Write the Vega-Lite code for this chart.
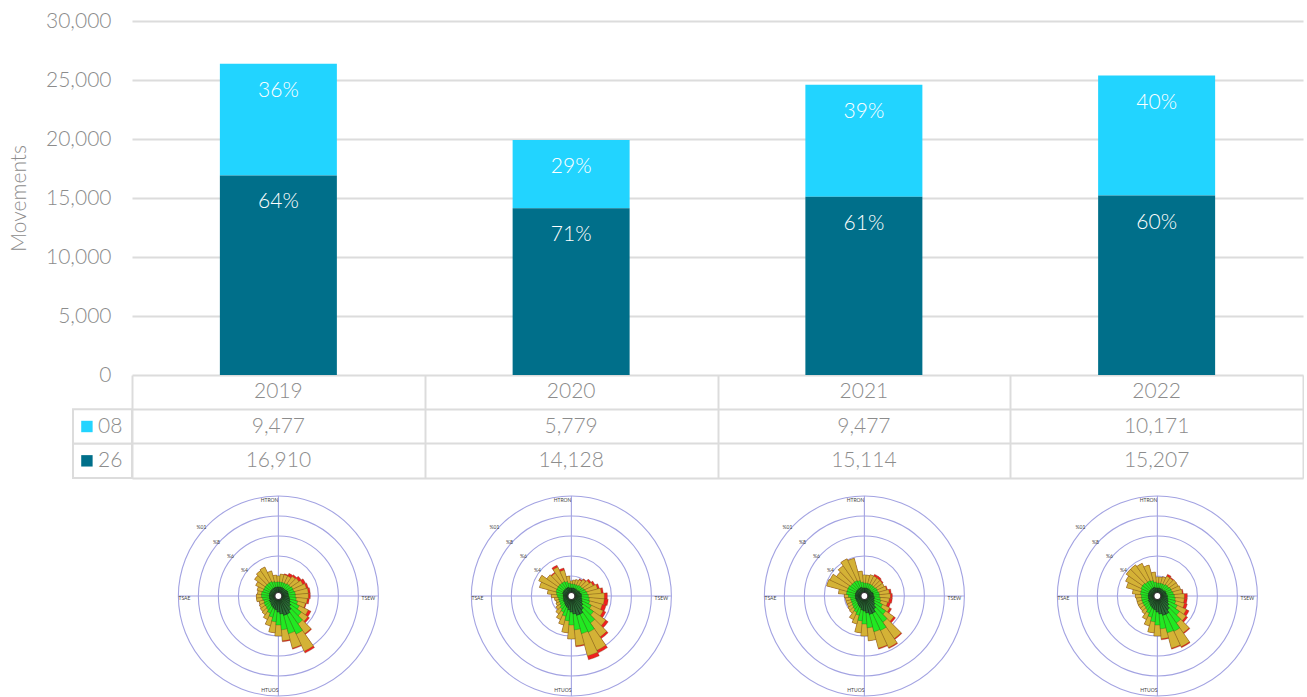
{
"$schema": "https://vega.github.io/schema/vega-lite/v6.json",
"background": "white",
"padding": {"left": 8, "top": 10, "right": 0, "bottom": 0},
"autosize": {"type": "pad"},
"spacing": 0,
"bounds": "flush",
"config": {"view": {"stroke": null}, "font": "Lato", "text": {"font": "Lato", "fontWeight": 300, "fontSize": 21, "color": "#8c8c8c"}},
"datasets": {
"movements": [
{"year":2019,"runway":"08","movements":9477,"share":0.36},
{"year":2019,"runway":"26","movements":16910,"share":0.64},
{"year":2020,"runway":"08","movements":5779,"share":0.29},
{"year":2020,"runway":"26","movements":14128,"share":0.71},
{"year":2021,"runway":"08","movements":9477,"share":0.39},
{"year":2021,"runway":"26","movements":15114,"share":0.61},
{"year":2022,"runway":"08","movements":10171,"share":0.40},
{"year":2022,"runway":"26","movements":15207,"share":0.60}
],
"wind": [
{"year":2019,"dir":0,"dg":0.9,"g":1.4,"yl":2.0,"rd":2.0},
{"year":2019,"dir":10,"dg":0.9,"g":1.4,"yl":2.2,"rd":2.2},
{"year":2019,"dir":20,"dg":0.9,"g":1.4,"yl":2.2,"rd":2.3},
{"year":2019,"dir":30,"dg":0.9,"g":1.4,"yl":2.2,"rd":2.5},
{"year":2019,"dir":40,"dg":0.9,"g":1.5,"yl":2.4,"rd":2.6},
{"year":2019,"dir":50,"dg":0.9,"g":1.5,"yl":2.5,"rd":2.8},
{"year":2019,"dir":60,"dg":1.0,"g":1.6,"yl":2.7,"rd":3.0},
{"year":2019,"dir":70,"dg":1.0,"g":1.6,"yl":2.9,"rd":3.1},
{"year":2019,"dir":80,"dg":1.0,"g":1.7,"yl":3.0,"rd":3.2},
{"year":2019,"dir":90,"dg":1.0,"g":1.7,"yl":3.0,"rd":3.2},
{"year":2019,"dir":100,"dg":1.1,"g":1.8,"yl":2.9,"rd":3.1},
{"year":2019,"dir":110,"dg":1.2,"g":2.0,"yl":2.8,"rd":2.9},
{"year":2019,"dir":120,"dg":1.3,"g":2.3,"yl":3.3,"rd":3.6},
{"year":2019,"dir":130,"dg":1.5,"g":2.8,"yl":3.6,"rd":3.8},
{"year":2019,"dir":140,"dg":1.8,"g":3.4,"yl":4.6,"rd":4.7},
{"year":2019,"dir":150,"dg":2.0,"g":4.2,"yl":6.1,"rd":6.3},
{"year":2019,"dir":160,"dg":2.0,"g":3.9,"yl":5.4,"rd":5.5},
{"year":2019,"dir":170,"dg":1.8,"g":3.4,"yl":4.5,"rd":4.6},
{"year":2019,"dir":180,"dg":1.6,"g":2.9,"yl":4.0,"rd":4.0},
{"year":2019,"dir":190,"dg":1.4,"g":2.6,"yl":3.7,"rd":3.7},
{"year":2019,"dir":200,"dg":1.3,"g":2.2,"yl":3.1,"rd":3.1},
{"year":2019,"dir":210,"dg":1.2,"g":1.9,"yl":2.6,"rd":2.6},
{"year":2019,"dir":220,"dg":1.1,"g":1.7,"yl":2.3,"rd":2.3},
{"year":2019,"dir":230,"dg":1.0,"g":1.6,"yl":2.2,"rd":2.2},
{"year":2019,"dir":240,"dg":1.0,"g":1.6,"yl":2.1,"rd":2.1},
{"year":2019,"dir":250,"dg":0.9,"g":1.5,"yl":2.0,"rd":2.0},
{"year":2019,"dir":260,"dg":0.9,"g":1.6,"yl":2.2,"rd":2.2},
{"year":2019,"dir":270,"dg":0.9,"g":1.7,"yl":2.2,"rd":2.2},
{"year":2019,"dir":280,"dg":0.9,"g":1.7,"yl":2.1,"rd":2.1},
{"year":2019,"dir":290,"dg":0.9,"g":1.6,"yl":2.2,"rd":2.2},
{"year":2019,"dir":300,"dg":0.9,"g":1.6,"yl":2.5,"rd":2.5},
{"year":2019,"dir":310,"dg":0.9,"g":1.6,"yl":2.9,"rd":2.9},
{"year":2019,"dir":320,"dg":0.9,"g":1.6,"yl":3.1,"rd":3.1},
{"year":2019,"dir":330,"dg":0.9,"g":1.6,"yl":3.2,"rd":3.2},
{"year":2019,"dir":340,"dg":0.9,"g":1.5,"yl":2.6,"rd":2.6},
{"year":2019,"dir":350,"dg":0.9,"g":1.4,"yl":2.1,"rd":2.1},
{"year":2020,"dir":0,"dg":0.8,"g":1.2,"yl":1.5,"rd":1.5},
{"year":2020,"dir":10,"dg":0.8,"g":1.2,"yl":1.6,"rd":1.6},
{"year":2020,"dir":20,"dg":0.8,"g":1.2,"yl":1.7,"rd":1.7},
{"year":2020,"dir":30,"dg":0.8,"g":1.2,"yl":1.8,"rd":1.9},
{"year":2020,"dir":40,"dg":0.8,"g":1.3,"yl":2.0,"rd":2.1},
{"year":2020,"dir":50,"dg":0.8,"g":1.3,"yl":2.2,"rd":2.4},
{"year":2020,"dir":60,"dg":0.9,"g":1.4,"yl":2.4,"rd":2.6},
{"year":2020,"dir":70,"dg":0.9,"g":1.5,"yl":2.7,"rd":2.9},
{"year":2020,"dir":80,"dg":1.0,"g":1.6,"yl":3.0,"rd":3.2},
{"year":2020,"dir":90,"dg":1.0,"g":1.7,"yl":3.3,"rd":3.6},
{"year":2020,"dir":100,"dg":1.0,"g":1.8,"yl":3.3,"rd":3.7},
{"year":2020,"dir":110,"dg":1.1,"g":1.9,"yl":3.2,"rd":3.6},
{"year":2020,"dir":120,"dg":1.2,"g":2.2,"yl":3.5,"rd":3.8},
{"year":2020,"dir":130,"dg":1.4,"g":2.7,"yl":4.2,"rd":4.5},
{"year":2020,"dir":140,"dg":1.7,"g":3.3,"yl":5.0,"rd":5.2},
{"year":2020,"dir":150,"dg":2.0,"g":4.0,"yl":6.0,"rd":6.3},
{"year":2020,"dir":160,"dg":2.0,"g":3.9,"yl":6.2,"rd":6.6},
{"year":2020,"dir":170,"dg":1.8,"g":3.4,"yl":5.0,"rd":5.1},
{"year":2020,"dir":180,"dg":1.6,"g":2.9,"yl":4.3,"rd":4.3},
{"year":2020,"dir":190,"dg":1.4,"g":2.5,"yl":3.7,"rd":3.7},
{"year":2020,"dir":200,"dg":1.2,"g":2.1,"yl":3.0,"rd":3.0},
{"year":2020,"dir":210,"dg":1.1,"g":1.8,"yl":2.6,"rd":2.6},
{"year":2020,"dir":220,"dg":1.0,"g":1.6,"yl":2.2,"rd":2.2},
{"year":2020,"dir":230,"dg":0.9,"g":1.4,"yl":1.9,"rd":1.9},
{"year":2020,"dir":240,"dg":0.9,"g":1.3,"yl":1.7,"rd":1.7},
{"year":2020,"dir":250,"dg":0.8,"g":1.3,"yl":1.6,"rd":1.6},
{"year":2020,"dir":260,"dg":0.8,"g":1.3,"yl":1.7,"rd":1.7},
{"year":2020,"dir":270,"dg":0.8,"g":1.4,"yl":2.0,"rd":2.0},
{"year":2020,"dir":280,"dg":0.8,"g":1.5,"yl":2.4,"rd":2.4},
{"year":2020,"dir":290,"dg":0.9,"g":1.6,"yl":3.3,"rd":3.3},
{"year":2020,"dir":300,"dg":0.9,"g":1.6,"yl":3.6,"rd":3.6},
{"year":2020,"dir":310,"dg":0.9,"g":1.6,"yl":3.0,"rd":3.0},
{"year":2020,"dir":320,"dg":0.9,"g":1.6,"yl":2.8,"rd":2.9},
{"year":2020,"dir":330,"dg":0.9,"g":1.6,"yl":3.2,"rd":3.4},
{"year":2020,"dir":340,"dg":0.9,"g":1.5,"yl":2.7,"rd":2.9},
{"year":2020,"dir":350,"dg":0.8,"g":1.3,"yl":2.0,"rd":2.0},
{"year":2021,"dir":0,"dg":0.8,"g":1.3,"yl":2.1,"rd":2.1},
{"year":2021,"dir":10,"dg":0.8,"g":1.3,"yl":2.1,"rd":2.1},
{"year":2021,"dir":20,"dg":0.8,"g":1.3,"yl":2.2,"rd":2.2},
{"year":2021,"dir":30,"dg":0.8,"g":1.3,"yl":2.2,"rd":2.4},
{"year":2021,"dir":40,"dg":0.8,"g":1.3,"yl":2.2,"rd":2.4},
{"year":2021,"dir":50,"dg":0.8,"g":1.3,"yl":2.2,"rd":2.3},
{"year":2021,"dir":60,"dg":0.8,"g":1.4,"yl":2.2,"rd":2.2},
{"year":2021,"dir":70,"dg":0.9,"g":1.4,"yl":2.3,"rd":2.4},
{"year":2021,"dir":80,"dg":0.9,"g":1.5,"yl":2.5,"rd":2.7},
{"year":2021,"dir":90,"dg":0.9,"g":1.5,"yl":2.6,"rd":2.8},
{"year":2021,"dir":100,"dg":1.0,"g":1.6,"yl":2.5,"rd":2.8},
{"year":2021,"dir":110,"dg":1.0,"g":1.7,"yl":2.4,"rd":2.7},
{"year":2021,"dir":120,"dg":1.1,"g":2.0,"yl":2.8,"rd":3.0},
{"year":2021,"dir":130,"dg":1.3,"g":2.6,"yl":3.6,"rd":3.8},
{"year":2021,"dir":140,"dg":1.6,"g":3.2,"yl":5.2,"rd":5.3},
{"year":2021,"dir":150,"dg":1.9,"g":3.8,"yl":5.7,"rd":5.8},
{"year":2021,"dir":160,"dg":1.9,"g":3.7,"yl":5.4,"rd":5.5},
{"year":2021,"dir":170,"dg":1.7,"g":3.2,"yl":4.5,"rd":4.5},
{"year":2021,"dir":180,"dg":1.5,"g":2.8,"yl":4.0,"rd":4.0},
{"year":2021,"dir":190,"dg":1.4,"g":2.5,"yl":3.7,"rd":3.7},
{"year":2021,"dir":200,"dg":1.2,"g":2.0,"yl":2.9,"rd":2.9},
{"year":2021,"dir":210,"dg":1.1,"g":1.8,"yl":2.6,"rd":2.6},
{"year":2021,"dir":220,"dg":1.0,"g":1.6,"yl":2.1,"rd":2.1},
{"year":2021,"dir":230,"dg":0.9,"g":1.5,"yl":2.0,"rd":2.0},
{"year":2021,"dir":240,"dg":0.9,"g":1.4,"yl":1.9,"rd":1.9},
{"year":2021,"dir":250,"dg":0.9,"g":1.4,"yl":1.9,"rd":1.9},
{"year":2021,"dir":260,"dg":0.9,"g":1.4,"yl":1.9,"rd":1.9},
{"year":2021,"dir":270,"dg":0.9,"g":1.6,"yl":2.0,"rd":2.0},
{"year":2021,"dir":280,"dg":0.9,"g":1.8,"yl":2.6,"rd":2.6},
{"year":2021,"dir":290,"dg":0.9,"g":1.8,"yl":3.9,"rd":3.9},
{"year":2021,"dir":300,"dg":0.9,"g":1.8,"yl":3.8,"rd":3.8},
{"year":2021,"dir":310,"dg":0.9,"g":1.7,"yl":3.4,"rd":3.4},
{"year":2021,"dir":320,"dg":0.9,"g":1.7,"yl":3.7,"rd":3.7},
{"year":2021,"dir":330,"dg":0.9,"g":1.7,"yl":4.1,"rd":4.1},
{"year":2021,"dir":340,"dg":0.9,"g":1.6,"yl":3.9,"rd":3.9},
{"year":2021,"dir":350,"dg":0.8,"g":1.4,"yl":2.5,"rd":2.5},
{"year":2022,"dir":0,"dg":0.8,"g":1.3,"yl":1.9,"rd":1.9},
{"year":2022,"dir":10,"dg":0.8,"g":1.3,"yl":1.9,"rd":1.9},
{"year":2022,"dir":20,"dg":0.8,"g":1.3,"yl":2.0,"rd":2.0},
{"year":2022,"dir":30,"dg":0.8,"g":1.3,"yl":2.2,"rd":2.4},
{"year":2022,"dir":40,"dg":0.8,"g":1.4,"yl":2.2,"rd":2.3},
{"year":2022,"dir":50,"dg":0.8,"g":1.4,"yl":2.3,"rd":2.3},
{"year":2022,"dir":60,"dg":0.9,"g":1.5,"yl":2.3,"rd":2.3},
{"year":2022,"dir":70,"dg":0.9,"g":1.5,"yl":2.4,"rd":2.4},
{"year":2022,"dir":80,"dg":0.9,"g":1.6,"yl":2.5,"rd":2.6},
{"year":2022,"dir":90,"dg":1.0,"g":1.7,"yl":2.7,"rd":3.0},
{"year":2022,"dir":100,"dg":1.0,"g":1.8,"yl":2.7,"rd":3.0},
{"year":2022,"dir":110,"dg":1.1,"g":1.9,"yl":2.8,"rd":3.1},
{"year":2022,"dir":120,"dg":1.2,"g":2.2,"yl":3.2,"rd":3.5},
{"year":2022,"dir":130,"dg":1.4,"g":2.7,"yl":3.5,"rd":3.7},
{"year":2022,"dir":140,"dg":1.7,"g":3.3,"yl":4.5,"rd":4.6},
{"year":2022,"dir":150,"dg":2.0,"g":3.9,"yl":5.6,"rd":5.7},
{"year":2022,"dir":160,"dg":2.0,"g":3.8,"yl":5.4,"rd":5.5},
{"year":2022,"dir":170,"dg":1.8,"g":3.3,"yl":4.3,"rd":4.4},
{"year":2022,"dir":180,"dg":1.6,"g":2.9,"yl":4.0,"rd":4.0},
{"year":2022,"dir":190,"dg":1.4,"g":2.6,"yl":3.7,"rd":3.7},
{"year":2022,"dir":200,"dg":1.3,"g":2.2,"yl":3.1,"rd":3.1},
{"year":2022,"dir":210,"dg":1.2,"g":1.9,"yl":2.6,"rd":2.6},
{"year":2022,"dir":220,"dg":1.1,"g":1.7,"yl":2.2,"rd":2.2},
{"year":2022,"dir":230,"dg":1.0,"g":1.6,"yl":2.1,"rd":2.1},
{"year":2022,"dir":240,"dg":1.0,"g":1.6,"yl":2.1,"rd":2.1},
{"year":2022,"dir":250,"dg":0.9,"g":1.6,"yl":2.1,"rd":2.1},
{"year":2022,"dir":260,"dg":0.9,"g":1.6,"yl":2.1,"rd":2.1},
{"year":2022,"dir":270,"dg":0.9,"g":1.6,"yl":2.2,"rd":2.2},
{"year":2022,"dir":280,"dg":0.9,"g":1.7,"yl":2.5,"rd":2.5},
{"year":2022,"dir":290,"dg":0.9,"g":1.7,"yl":3.2,"rd":3.2},
{"year":2022,"dir":300,"dg":0.9,"g":1.8,"yl":3.5,"rd":3.5},
{"year":2022,"dir":310,"dg":0.9,"g":1.8,"yl":3.8,"rd":3.8},
{"year":2022,"dir":320,"dg":0.9,"g":1.7,"yl":3.8,"rd":3.8},
{"year":2022,"dir":330,"dg":0.9,"g":1.7,"yl":3.6,"rd":3.6},
{"year":2022,"dir":340,"dg":0.9,"g":1.6,"yl":3.2,"rd":3.2},
{"year":2022,"dir":350,"dg":0.8,"g":1.4,"yl":2.4,"rd":2.4}
]
},
"vconcat": [
{
"width": 1171, "height": 354,
"data": {"name": "movements"},
"encoding": {
"x": {"field": "year", "type": "quantitative", "scale": {"domain": [2018.5, 2022.5], "nice": false, "zero": false, "padding": 0}, "axis": null},
"y": {"field": "movements", "type": "quantitative", "stack": "zero", "scale": {"domain": [0, 30000], "nice": false},
"axis": {"values": [0,5000,10000,15000,20000,25000,30000], "format": ",d", "grid": true, "gridColor": "#dcdcdc", "gridWidth": 2, "domain": false, "ticks": false, "tickSize": 0, "labelPadding": 21, "labelFontSize": 21, "labelFont": "Lato", "labelFontWeight": 300, "labelColor": "#8c8c8c", "title": "Movements", "titleFont": "Lato", "titleFontSize": 21, "titleFontWeight": 300, "titleColor": "#8c8c8c", "titlePadding": 16}},
"order": {"field": "runway", "type": "nominal", "sort": "descending"}
},
"layer": [
{"mark": {"type": "bar", "width": 117}, "encoding": {"color": {"field": "runway", "type": "nominal", "scale": {"domain": ["08", "26"], "range": ["#22D4FF", "#006F8A"]}, "legend": null}}},
{"mark": {"type": "text", "dy": 27, "color": "white", "fontSize": 21, "fontWeight": 300}, "encoding": {"text": {"field": "share", "type": "quantitative", "format": ".0%"}, "detail": {"field": "runway", "type": "nominal"}}}
]
},
{
"width": 1171, "height": 103,
"data": {"name": "movements"},
"encoding": {
"y": {"field": "runway", "type": "nominal", "scale": {"domain": ["year", "08", "26"], "paddingInner": 0, "paddingOuter": 0},
"axis": {"bandPosition": 1, "grid": true, "gridColor": "#dcdcdc", "gridWidth": 2, "labels": false, "ticks": false, "domain": false, "title": null}}
},
"layer": [
{"transform": [{"filter": "datum.year == 2019"}],
"mark": {"type": "rect", "fill": "white", "stroke": "#dcdcdc", "strokeWidth": 2},
"encoding": {"x": {"datum": 2018.2985, "type": "quantitative", "stack": null, "scale": {"domain": [2018.5, 2022.5], "nice": false, "zero": false}, "axis": {"values": [2018.5, 2019.5, 2020.5, 2021.5, 2022.5], "grid": true, "gridColor": "#dcdcdc", "gridWidth": 2, "labels": false, "ticks": false, "domain": false, "title": null}}, "x2": {"datum": 2018.5}}},
{"transform": [{"filter": "datum.runway == '08'"}],
"mark": {"type": "text"},
"encoding": {"x": {"field": "year", "type": "quantitative", "stack": null}, "y": {"datum": "year", "type": "nominal"}, "text": {"field": "year", "type": "nominal"}}},
{"mark": {"type": "text"},
"encoding": {"x": {"field": "year", "type": "quantitative", "stack": null}, "text": {"field": "movements", "type": "quantitative", "format": ","}}},
{"transform": [{"filter": "datum.year == 2019"}],
"mark": {"type": "point", "shape": "square", "filled": true, "size": 130, "opacity": 1},
"encoding": {"x": {"datum": 2018.346, "type": "quantitative", "stack": null}, "color": {"field": "runway", "type": "nominal", "scale": {"domain": ["08", "26"], "range": ["#22D4FF", "#006F8A"]}, "legend": null}}},
{"transform": [{"filter": "datum.year == 2019"}],
"mark": {"type": "text", "align": "left"},
"encoding": {"x": {"datum": 2018.384, "type": "quantitative", "stack": null}, "text": {"field": "runway", "type": "nominal"}}}
]
},
{
"data": {"name": "wind"},
"facet": {"column": {"field": "year", "type": "ordinal", "header": null}},
"spacing": 0,
"bounds": "flush",
"spec": {
"width": 292.75, "height": 219,
"layer": [
{"transform": [{"filter": "datum.dir == 0"}], "mark": {"type": "point", "shape": "circle", "filled": false, "color": "#a3a3e2", "strokeWidth": 1.1, "opacity": 1, "size": 1600, "yOffset": 8.5}},
{"transform": [{"filter": "datum.dir == 0"}], "mark": {"type": "point", "shape": "circle", "filled": false, "color": "#a3a3e2", "strokeWidth": 1.1, "opacity": 1, "size": 6400, "yOffset": 8.5}},
{"transform": [{"filter": "datum.dir == 0"}], "mark": {"type": "point", "shape": "circle", "filled": false, "color": "#a3a3e2", "strokeWidth": 1.1, "opacity": 1, "size": 14400, "yOffset": 8.5}},
{"transform": [{"filter": "datum.dir == 0"}], "mark": {"type": "point", "shape": "circle", "filled": false, "color": "#a3a3e2", "strokeWidth": 1.1, "opacity": 1, "size": 25600, "yOffset": 8.5}},
{"transform": [{"filter": "datum.dir == 0"}], "mark": {"type": "point", "shape": "circle", "filled": false, "color": "#a3a3e2", "strokeWidth": 1.1, "opacity": 1, "size": 40000, "yOffset": 8.5}},
{"transform": [{"filter": "datum.dir == 0"}], "mark": {"type": "point", "shape": "M0,-1V1M-1,0H1", "filled": false, "color": "#a3a3e2", "strokeWidth": 1.1, "opacity": 1, "size": 40000, "yOffset": 8.5}},
{"transform": [{"bin": {"step": 10, "extent": [-5, 355], "nice": false}, "field": "dir", "as": ["a0", "a1"]}],
"mark": {"type": "arc", "fill": "#F02020", "stroke": "#5a3a10", "strokeWidth": 0.4, "strokeOpacity": 0.7, "yOffset": 8.5},
"encoding": {"theta": {"field": "a0", "type": "quantitative", "stack": null, "scale": {"domain": [0, 360], "range": [0, 6.283185]}}, "theta2": {"field": "a1"}, "radius": {"field": "rd", "type": "quantitative", "stack": null, "scale": {"type": "linear", "domain": [0, 10], "range": [0, 100], "zero": true, "nice": false}}}},
{"transform": [{"bin": {"step": 10, "extent": [-5, 355], "nice": false}, "field": "dir", "as": ["a0", "a1"]}],
"mark": {"type": "arc", "fill": "#D4B236", "stroke": "#5a4a10", "strokeWidth": 0.4, "strokeOpacity": 0.7, "yOffset": 8.5},
"encoding": {"theta": {"field": "a0", "type": "quantitative", "stack": null}, "theta2": {"field": "a1"}, "radius": {"field": "yl", "type": "quantitative", "stack": null}}},
{"transform": [{"bin": {"step": 10, "extent": [-5, 355], "nice": false}, "field": "dir", "as": ["a0", "a1"]}],
"mark": {"type": "arc", "fill": "#22E822", "stroke": "#1a4a1a", "strokeWidth": 0.4, "strokeOpacity": 0.7, "yOffset": 8.5},
"encoding": {"theta": {"field": "a0", "type": "quantitative", "stack": null}, "theta2": {"field": "a1"}, "radius": {"field": "g", "type": "quantitative", "stack": null}}},
{"transform": [{"bin": {"step": 10, "extent": [-5, 355], "nice": false}, "field": "dir", "as": ["a0", "a1"]}],
"mark": {"type": "arc", "fill": "#2B6B38", "stroke": "#111111", "strokeWidth": 0.5, "strokeOpacity": 0.8, "yOffset": 8.5},
"encoding": {"theta": {"field": "a0", "type": "quantitative", "stack": null}, "theta2": {"field": "a1"}, "radius": {"field": "dg", "type": "quantitative", "stack": null}}},
{"transform": [{"filter": "datum.dir == 0"}], "mark": {"type": "point", "shape": "circle", "filled": true, "fill": "white", "stroke": "#333333", "strokeWidth": 1.2, "opacity": 1, "size": 49, "yOffset": 8.5}},
{"transform": [{"filter": "datum.dir == 0"}], "mark": {"type": "text", "text": "HTRON", "align": "right", "fontSize": 5, "fontWeight": 400, "color": "#444444", "dy": -96, "yOffset": 8.5}},
{"transform": [{"filter": "datum.dir == 0"}], "mark": {"type": "text", "text": "HTUOS", "align": "right", "fontSize": 5, "fontWeight": 400, "color": "#444444", "dy": 94, "yOffset": 8.5}},
{"transform": [{"filter": "datum.dir == 0"}], "mark": {"type": "text", "text": "TSAE", "align": "center", "fontSize": 5, "fontWeight": 400, "color": "#444444", "dx": -94, "dy": 2, "yOffset": 8.5}},
{"transform": [{"filter": "datum.dir == 0"}], "mark": {"type": "text", "text": "TSEW", "align": "center", "fontSize": 5, "fontWeight": 400, "color": "#444444", "dx": 90, "dy": 2, "yOffset": 8.5}},
{"transform": [{"filter": "datum.dir == 0"}], "mark": {"type": "text", "text": "%4", "fontSize": 5, "fontWeight": 400, "color": "#444444", "dx": -34, "dy": -26, "yOffset": 8.5}},
{"transform": [{"filter": "datum.dir == 0"}], "mark": {"type": "text", "text": "%6", "fontSize": 5, "fontWeight": 400, "color": "#444444", "dx": -48, "dy": -40, "yOffset": 8.5}},
{"transform": [{"filter": "datum.dir == 0"}], "mark": {"type": "text", "text": "%8", "fontSize": 5, "fontWeight": 400, "color": "#444444", "dx": -62, "dy": -54, "yOffset": 8.5}},
{"transform": [{"filter": "datum.dir == 0"}], "mark": {"type": "text", "text": "%01", "fontSize": 5, "fontWeight": 400, "color": "#444444", "dx": -77, "dy": -69, "yOffset": 8.5}}
]
}
}
]
}
